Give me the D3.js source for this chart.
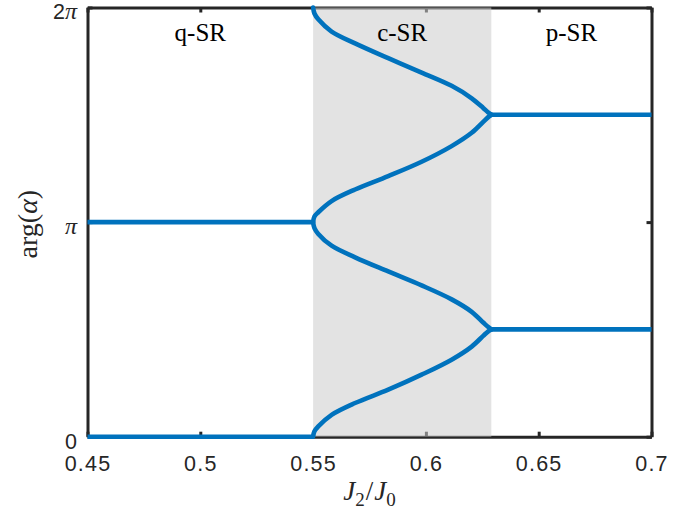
<!DOCTYPE html>
<html>
<head>
<meta charset="utf-8">
<script src="https://cdn.jsdelivr.net/npm/d3@7"></script>
<style>
  body { margin: 0; background: #fff; }
  svg { display: block; }
</style>
</head>
<body>
<div id="chart"></div>
<script>
// J2/J0 axis
const xTicks = [0.45, 0.5, 0.55, 0.6, 0.65, 0.7];
const xTickLabels = ["0.45", "0.5", "0.55", "0.6", "0.65", "0.7"];
// arg(alpha) axis, values in units of pi
const yTicks = [0, 1, 2];
const yTickLabels = [["0", ""], ["", "π"], ["2", "π"]];

// phase regions and their boundaries in J2/J0
const regionNames = ["q-SR", "c-SR", "p-SR"];
const regionBounds = [0.45, 0.55, 0.629, 0.7];

// q-SR: two degenerate phases, 0 and pi
const qX = [0.45, 0.55];
const qLow = [0, 0];
const qHigh = [1, 1];

// p-SR: phases pi/2 and 3pi/2
const pX = [0.629, 0.7];
const pLow = [0.5, 0.5];
const pHigh = [1.5, 1.5];

// c-SR: four continuously varying branches
const cX     = [0.550, 0.5506, 0.5523, 0.5582, 0.5686, 0.5833, 0.5981, 0.6114, 0.6203, 0.6254, 0.6275, 0.629];
const cUp0   = [0.000, 0.025, 0.048, 0.102, 0.157, 0.219, 0.289, 0.359, 0.420, 0.470, 0.490, 0.500];
const cDownPi= [1.000, 0.972, 0.945, 0.890, 0.836, 0.770, 0.705, 0.640, 0.582, 0.532, 0.512, 0.500];
const cUpPi  = [1.000, 1.026, 1.046, 1.098, 1.152, 1.214, 1.281, 1.354, 1.416, 1.467, 1.488, 1.500];
const cDown2 = [2.000, 1.972, 1.945, 1.888, 1.833, 1.764, 1.697, 1.635, 1.577, 1.532, 1.512, 1.500];

const W = 700, H = 513;
const margin = { left: 87.5, right: 48.5, top: 7.5, bottom: 76.3 };
const iw = W - margin.left - margin.right;
const ih = H - margin.top - margin.bottom;

const axisColor = "#262626";
const lineColor = "#0072bd";
const lineWidth = 4.6;

const svg = d3.select("#chart").append("svg")
  .attr("width", W).attr("height", H);

const g = svg.append("g").attr("transform", `translate(${margin.left},${margin.top})`);

const x = d3.scaleLinear().domain([0.45, 0.7]).range([0, iw]);
const y = d3.scaleLinear().domain([0, 2]).range([ih, 0]);

// ---- axes: frame plus inward ticks on all four sides
function styleAxis(sel) {
  sel.selectAll(".domain").attr("stroke", axisColor).attr("stroke-width", 3);
  sel.selectAll(".tick line").attr("stroke", axisColor).attr("stroke-width", 3);
}

const axB = g.append("g").attr("transform", `translate(0,${ih})`)
  .call(d3.axisBottom(x).tickValues(xTicks)
    .tickFormat((d, i) => xTickLabels[i])
    .tickSizeInner(-5).tickSizeOuter(0).tickPadding(19));
styleAxis(axB);
axB.selectAll("text")
  .attr("fill", axisColor)
  .style("font-family", "'Liberation Sans', Arial, sans-serif")
  .style("font-size", "21.5px")
  .style("letter-spacing", "1.2px");

const axT = g.append("g")
  .call(d3.axisTop(x).tickValues(xTicks).tickFormat("")
    .tickSizeInner(-5).tickSizeOuter(0));
styleAxis(axT);

const axL = g.append("g")
  .call(d3.axisLeft(y).tickValues(yTicks).tickFormat("")
    .tickSizeInner(-5).tickSizeOuter(0));
styleAxis(axL);

const axR = g.append("g").attr("transform", `translate(${iw},0)`)
  .call(d3.axisRight(y).tickValues(yTicks).tickFormat("")
    .tickSizeInner(-5).tickSizeOuter(0));
styleAxis(axR);

// y tick labels: numeral in sans, pi in serif italic
yTicks.forEach((v, i) => {
  const t = g.append("text")
    .attr("x", -10.5)
    .attr("y", y(v) + 11.8)
    .attr("text-anchor", "end")
    .attr("fill", axisColor);
  const [num, sym] = yTickLabels[i];
  if (num) t.append("tspan")
    .style("font-family", "'Liberation Sans', Arial, sans-serif")
    .style("font-size", "21.5px").text(num);
  if (sym) t.append("tspan")
    .style("font-family", "'Liberation Serif', 'Times New Roman', serif")
    .style("font-style", "italic")
    .style("font-size", "24px").text(sym);
});

// ---- c-SR shaded band (translucent, over the frame)
g.append("rect")
  .attr("x", x(regionBounds[1]))
  .attr("y", y(2))
  .attr("width", x(regionBounds[2]) - x(regionBounds[1]))
  .attr("height", y(0) - y(2))
  .attr("fill", "rgb(204,204,204)")
  .attr("fill-opacity", 0.55);

// ---- phase branches
const zip = (xs, ys) => xs.map((d, i) => [d, ys[i]]);
const flatLine = d3.line().x(d => x(d[0])).y(d => y(d[1]));
const curveLine = d3.line().x(d => x(d[0])).y(d => y(d[1])).curve(d3.curveCatmullRom.alpha(0.5));

[qLow, qHigh].forEach(v => g.append("path")
  .attr("d", flatLine(zip(qX, v)))
  .attr("fill", "none").attr("stroke", lineColor)
  .attr("stroke-width", lineWidth).attr("stroke-linecap", "butt"));

[pLow, pHigh].forEach(v => g.append("path")
  .attr("d", flatLine(zip(pX, v)))
  .attr("fill", "none").attr("stroke", lineColor)
  .attr("stroke-width", lineWidth).attr("stroke-linecap", "butt"));

[cUp0, cDownPi, cUpPi, cDown2].forEach(v => g.append("path")
  .attr("d", curveLine(zip(cX, v)))
  .attr("fill", "none").attr("stroke", lineColor)
  .attr("stroke-width", lineWidth).attr("stroke-linecap", "round")
  .attr("stroke-linejoin", "round"));

// ---- region labels
regionNames.forEach((name, i) => {
  g.append("text")
    .attr("x", x((regionBounds[i] + regionBounds[i + 1]) / 2))
    .attr("y", 41 - margin.top)
    .attr("text-anchor", "middle")
    .attr("fill", "#000")
    .style("font-family", "'Liberation Serif', 'Times New Roman', serif")
    .style("font-size", "25px")
    .text(name);
});

// ---- axis titles
const serif = "'Liberation Serif', 'Times New Roman', serif";
const xl = svg.append("text")
  .attr("x", margin.left + iw / 2)
  .attr("y", 500)
  .attr("text-anchor", "middle")
  .attr("fill", axisColor)
  .style("font-family", serif)
  .style("font-size", "27px");
xl.append("tspan").style("font-style", "italic").text("J");
xl.append("tspan").attr("dy", 6).style("font-size", "19px").text("2");
xl.append("tspan").attr("dy", -6).attr("dx", 1).text("/");
xl.append("tspan").attr("dx", 1).style("font-style", "italic").text("J");
xl.append("tspan").attr("dy", 6).style("font-size", "19px").text("0");

const yl = svg.append("text")
  .attr("transform", `translate(37,${margin.top + ih / 2 + 2}) rotate(-90)`)
  .attr("text-anchor", "middle")
  .attr("fill", axisColor)
  .style("font-family", serif)
  .style("font-size", "28px");
yl.append("tspan").text("arg(");
yl.append("tspan").style("font-style", "italic").text("α");
yl.append("tspan").text(")");
</script>
</body>
</html>
